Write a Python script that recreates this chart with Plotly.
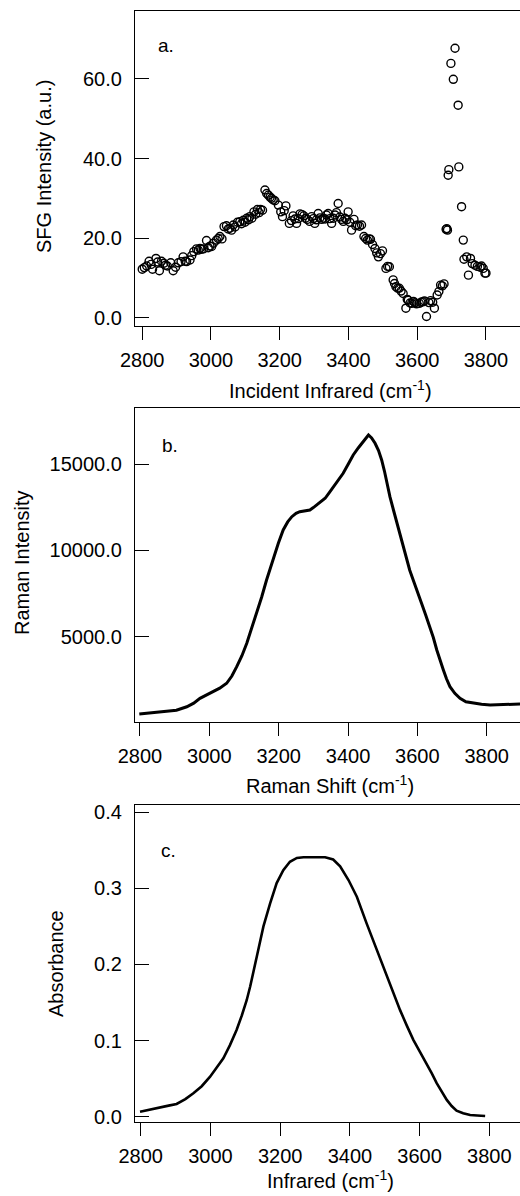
import plotly.graph_objects as go

# ---------------- data ----------------
# (a) SFG spectrum, open circles
sfg_x = [2800, 2806, 2813, 2820, 2826, 2830, 2840, 2845, 2850, 2856, 2863, 2868, 2873, 2883, 2890,
         2897, 2905, 2913, 2919, 2925, 2929, 2939, 2944, 2950, 2958, 2963, 2968, 2973, 2978, 2987,
         2992, 2997, 3002, 3007, 3016, 3021, 3026, 3032, 3038, 3045, 3050, 3055, 3060, 3065, 3070,
         3077, 3084, 3089, 3094, 3099, 3104, 3109, 3113, 3119, 3125, 3130, 3135, 3140, 3144, 3150,
         3157, 3162, 3167, 3172, 3176, 3181, 3186, 3196, 3203, 3208, 3213, 3218, 3228, 3234, 3239,
         3244, 3249, 3254, 3259, 3265, 3270, 3275, 3280, 3287, 3293, 3298, 3302, 3307, 3312, 3317,
         3322, 3327, 3332, 3336, 3341, 3346, 3351, 3356, 3361, 3365, 3370, 3375, 3380, 3385, 3390,
         3395, 3399, 3404, 3409, 3416, 3421, 3426, 3432, 3438, 3445, 3450, 3455, 3460, 3464, 3470,
         3477, 3482, 3487, 3493, 3499, 3509, 3514, 3519, 3530, 3534, 3538, 3543, 3548, 3553, 3559,
         3567, 3571, 3574, 3579, 3584, 3589, 3593, 3598, 3606, 3611, 3616, 3621, 3627, 3634, 3639,
         3645, 3650, 3658, 3663, 3668, 3673, 3678, 3684, 3686, 3688, 3690, 3692, 3698, 3705, 3710,
         3719, 3721, 3729, 3734, 3736, 3744, 3749, 3755, 3760, 3768, 3775, 3783, 3787, 3792, 3797,
         3800]
sfg_y = [12.2, 12.6, 13.0, 14.2, 13.4, 12.2, 14.9, 14.0, 11.8, 14.2, 13.7, 13.2, 13.0, 13.8, 11.8,
         12.7, 13.8, 14.1, 15.3, 14.2, 14.1, 14.5, 15.6, 16.6, 17.3, 17.0, 17.4, 17.2, 17.3, 19.4,
         17.6, 18.0, 17.9, 18.7, 19.5, 19.9, 20.4, 19.8, 22.9, 23.1, 22.3, 22.5, 22.0, 23.3, 22.8,
         24.0, 24.1, 23.6, 24.5, 24.0, 25.0, 24.6, 25.4, 25.0, 26.6, 26.0, 27.2, 26.4, 27.2, 27.0,
         32.1, 31.2, 30.8, 30.3, 30.0, 29.6, 29.4, 28.3, 26.6, 25.4, 26.9, 28.1, 23.7, 24.4, 25.6,
         24.8, 23.7, 24.9, 26.1, 25.9, 25.6, 25.0, 24.7, 24.2, 25.4, 24.9, 23.7, 24.6, 26.2, 25.1,
         24.7, 25.0, 24.8, 25.8, 26.2, 24.9, 23.7, 25.0, 25.8, 26.4, 28.7, 25.3, 24.7, 24.2, 25.0,
         24.6, 26.6, 24.0, 22.0, 24.7, 23.1, 23.3, 23.0, 23.3, 20.4, 19.9, 19.5, 19.8, 19.7, 18.4,
         17.4, 16.3, 15.3, 16.1, 16.8, 12.4, 12.9, 12.8, 9.5, 8.6, 7.8, 7.4, 7.4, 6.7, 6.1,
         2.4, 4.6, 4.4, 3.7, 3.6, 4.1, 3.8, 3.5, 3.6, 3.9, 4.0, 4.2, 0.3, 3.8, 4.3,
         3.9, 2.4, 5.7, 6.6, 8.2, 8.0, 8.5, 22.2, 22.4, 22.0, 35.8, 37.2, 63.9, 59.9, 67.7,
         53.4, 37.9, 27.9, 19.5, 14.7, 15.3, 10.7, 14.9, 13.6, 13.2, 12.9, 12.7, 13.0, 12.4, 11.2,
         11.2]

# (b) Raman spectrum
raman_x = [2798, 2820, 2850, 2877, 2905, 2935, 2955, 2973, 2992, 3011, 3030, 3050, 3065, 3079, 3094,
           3108, 3122, 3137, 3151, 3165, 3183, 3199, 3213, 3226, 3238, 3250, 3261, 3275, 3290, 3300,
           3310, 3322, 3334, 3346, 3358, 3372, 3386, 3400, 3415, 3430, 3444, 3452, 3459, 3468, 3478,
           3488, 3497, 3505, 3512, 3521, 3531, 3540, 3550, 3559, 3569, 3578, 3588, 3600, 3612, 3624,
           3636, 3646, 3656, 3665, 3675, 3684, 3694, 3708, 3723, 3740, 3761, 3785, 3810, 3840, 3868,
           3896]
raman_y = [521, 560, 610, 655, 740, 940, 1150, 1430, 1620, 1810, 2020, 2300, 2720, 3262, 3900,
           4618, 5480, 6356, 7300, 8285, 9444, 10412, 11182, 11650, 11953, 12150, 12243, 12300, 12341, 12480,
           12631, 12800, 13019, 13350, 13691, 14080, 14468, 14980, 15528, 15950, 16298, 16480, 16686, 16520, 16205,
           15780, 15238, 14600, 13888, 13100, 12341, 11650, 10991, 10150, 9444, 8850, 8285, 7650, 6935, 6250,
           5579, 4950, 4229, 3620, 3071, 2560, 2103, 1720, 1431, 1230, 1141, 1080, 1043, 1060, 1080,
           1101]

# (c) IR absorbance spectrum
abs_x = [2798, 2825, 2855, 2880, 2903, 2928, 2951, 2975, 2999, 3018, 3037, 3056, 3075, 3090, 3104,
         3114, 3133, 3152, 3171, 3190, 3209, 3228, 3248, 3267, 3286, 3308, 3329, 3352, 3372, 3396,
         3420, 3448, 3477, 3506, 3525, 3544, 3563, 3582, 3601, 3620, 3635, 3649, 3664, 3678, 3692,
         3706, 3725, 3745, 3765, 3788]
abs_y = [0.0066, 0.0095, 0.0124, 0.0145, 0.0167, 0.023, 0.0307, 0.040, 0.0526, 0.064, 0.0767, 0.094, 0.114, 0.133, 0.153,
         0.171, 0.210, 0.250, 0.280, 0.307, 0.324, 0.335, 0.340, 0.341, 0.341, 0.341, 0.341, 0.338, 0.329, 0.311,
         0.289, 0.254, 0.219, 0.184, 0.162, 0.140, 0.120, 0.101, 0.085, 0.070, 0.057, 0.044, 0.032, 0.022, 0.014,
         0.0079, 0.0045, 0.0022, 0.0015, 0.0009]

x_ticks = [2800, 3000, 3200, 3400, 3600, 3800]
sfg_yticks = [0, 20, 40, 60]
raman_yticks = [5000, 10000, 15000]
abs_yticks = [0.0, 0.1, 0.2, 0.3, 0.4]

x_titles = ["Incident Infrared (cm<sup>-1</sup>)", "Raman Shift (cm<sup>-1</sup>)", "Infrared (cm<sup>-1</sup>)"]
y_titles = ["SFG Intensity (a.u.)", "Raman Intensity", "Absorbance"]
panel_tags = ["a.", "b.", "c."]

# ---------------- layout helpers ----------------
W, H = 520, 1196
FONT = "Liberation Sans, Arial, sans-serif"
INK = "#000000"


def px_x(p):
    return p / W


def px_y(p):
    return 1 - p / H


fig = go.Figure()

fig.add_trace(go.Scatter(x=sfg_x, y=sfg_y, mode="markers", xaxis="x", yaxis="y",
                         marker=dict(symbol="circle-open", size=8, color=INK, line=dict(width=1.4, color=INK)),
                         showlegend=False))
fig.add_trace(go.Scatter(x=raman_x, y=raman_y, mode="lines", xaxis="x2", yaxis="y2",
                         line=dict(color=INK, width=3), showlegend=False))
fig.add_trace(go.Scatter(x=abs_x, y=abs_y, mode="lines", xaxis="x3", yaxis="y3",
                         line=dict(color=INK, width=2.6), showlegend=False))

# vertical extents of the three panels (pixels from top)
panels = [
    dict(top=11, bot=325.7, xr=[2779, 3899], yr=[-2.0, 77.06], yt=sfg_yticks, fmt=".1f"),
    dict(top=407.7, bot=722.3, xr=[2785.6, 3896], yr=[40, 18268], yt=raman_yticks, fmt=".1f"),
    dict(top=805, bot=1122.3, xr=[2783.6, 3888], yr=[-0.0074, 0.4096], yt=abs_yticks, fmt=".1f"),
]

x_dom = [px_x(135), 1.0]
tickfont = dict(family=FONT, size=20, color=INK)

for i, p in enumerate(panels):
    sfx = "" if i == 0 else str(i + 1)
    ydom = [px_y(p["bot"]), px_y(p["top"])]
    fig.update_layout(**{
        "xaxis" + sfx: dict(domain=x_dom, range=p["xr"], anchor="y" + sfx,
                            tickvals=x_ticks, ticks="outside", ticklen=13, tickwidth=1.3,
                            tickcolor=INK, showline=True, linecolor=INK, linewidth=1.3,
                            mirror=True, showgrid=False, zeroline=False,
                            tickfont=tickfont, ticklabelstandoff=3, automargin=False),
        "yaxis" + sfx: dict(domain=ydom, range=p["yr"], anchor="x" + sfx,
                            tickvals=p["yt"], tickformat=p["fmt"], ticks="inside", ticklen=14,
                            tickwidth=1.3, tickcolor=INK, showline=True, linecolor=INK,
                            linewidth=1.3, mirror=False, showgrid=False, zeroline=False,
                            tickfont=tickfont, ticklabelstandoff=8, automargin=False),
    })

annotations = []
# x-axis titles
for txt, yc in zip(x_titles, [389, 785, 1179]):
    annotations.append(dict(text=txt, x=px_x(330), y=px_y(yc), xref="paper", yref="paper",
                            xanchor="center", yanchor="middle", showarrow=False,
                            font=dict(family=FONT, size=20, color=INK)))
# y-axis titles
for txt, xc, yc in zip(y_titles, [43.5, 22, 56], [166.5, 563, 964]):
    annotations.append(dict(text=txt, x=px_x(xc), y=px_y(yc), xref="paper", yref="paper",
                            xanchor="center", yanchor="middle", showarrow=False, textangle=-90,
                            font=dict(family=FONT, size=20, color=INK)))
# panel tags
for txt, xc, yc in zip(panel_tags, [166, 170, 168], [45, 445, 850]):
    annotations.append(dict(text=txt, x=px_x(xc), y=px_y(yc), xref="paper", yref="paper",
                            xanchor="center", yanchor="middle", showarrow=False,
                            font=dict(family=FONT, size=19, color=INK)))

fig.update_layout(width=W, height=H, margin=dict(l=0, r=0, t=0, b=0),
                  paper_bgcolor="white", plot_bgcolor="white",
                  annotations=annotations, showlegend=False)

fig.write_html("out.html")
